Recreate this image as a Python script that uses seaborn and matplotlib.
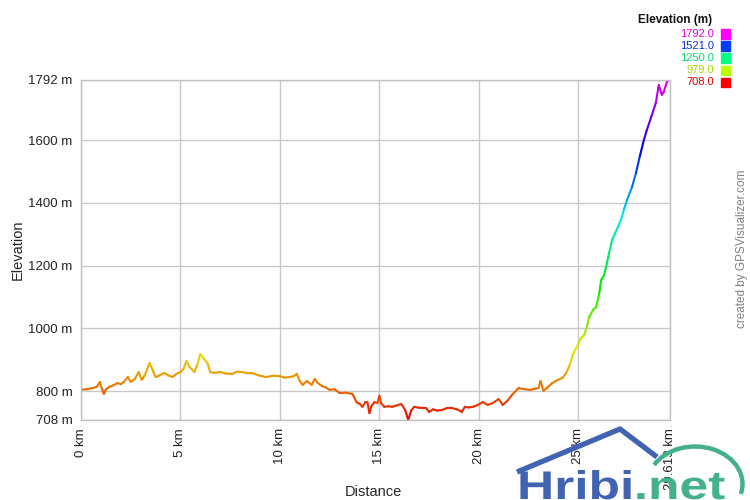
import numpy as np
import pandas as pd
import matplotlib
matplotlib.use("Agg")
import matplotlib.pyplot as plt
import matplotlib.colors as mcolors
from matplotlib.lines import Line2D
from matplotlib.patches import Arc, PathPatch
from matplotlib.textpath import TextPath
from matplotlib.font_manager import FontProperties
from matplotlib.transforms import Affine2D
import seaborn as sns

# ======================
# Data
# ======================
dist_km = [0.0, 0.3, 0.6, 0.8, 0.95, 1.05, 1.15, 1.25, 1.4, 1.6, 1.85, 2.0, 2.15, 2.35,
           2.5, 2.7, 2.9, 3.05, 3.2, 3.45, 3.6, 3.75, 3.95, 4.2, 4.4, 4.6, 4.8, 5.0,
           5.15, 5.3, 5.45, 5.7, 5.85, 6.0, 6.15, 6.35, 6.5, 6.7, 7.0, 7.3, 7.6, 7.85,
           8.1, 8.35, 8.6, 8.95, 9.3, 9.65, 10.0, 10.25, 10.5, 10.7, 10.85, 11.0, 11.15,
           11.35, 11.6, 11.75, 11.9, 12.1, 12.3, 12.5, 12.75, 13.0, 13.3, 13.65, 13.85,
           14.0, 14.15, 14.3, 14.4, 14.5, 14.6, 14.75, 14.9, 15.0, 15.1, 15.25, 15.45,
           15.65, 15.9, 16.1, 16.3, 16.45, 16.6, 16.75, 17.0, 17.35, 17.5, 17.7, 17.9,
           18.15, 18.4, 18.65, 18.9, 19.15, 19.3, 19.5, 19.7, 19.95, 20.2, 20.45, 20.7,
           21.0, 21.2, 21.45, 21.7, 22.0, 22.3, 22.6, 22.85, 23.0, 23.1, 23.25, 23.45,
           23.7, 23.95, 24.2, 24.4, 24.55, 24.75, 25.0, 25.15, 25.3, 25.45, 25.55, 25.75,
           25.9, 26.05, 26.15, 26.3, 26.4, 26.55, 26.7, 26.9, 27.15, 27.3, 27.45, 27.7,
           27.9, 28.1, 28.3, 28.45, 28.7, 28.9, 29.05, 29.2, 29.3, 29.45, 29.55]
elev_m = [805, 806, 810, 814, 829, 808, 791, 805, 813, 818, 826, 822, 829, 845,
          830, 838, 861, 836, 850, 890, 868, 845, 850, 858, 850, 845, 855, 861,
          870, 896, 878, 861, 885, 918, 905, 890, 861, 858, 861, 856, 855, 862,
          861, 857, 858, 850, 845, 849, 848, 843, 845, 848, 855, 832, 820,
          832, 820, 839, 826, 817, 812, 804, 806, 794, 795, 791, 765,
          760, 750, 765, 765, 730, 752, 765, 762, 785, 760, 750, 752,
          750, 755, 759, 740, 708, 738, 750, 747, 746, 734, 742, 738,
          740, 746, 746, 742, 734, 750, 748, 750, 756, 765, 756, 762,
          775, 756, 770, 790, 810, 806, 804, 808, 810, 832, 801, 812,
          826, 835, 842, 858, 880, 920, 950, 970, 979, 1010, 1036, 1060,
          1068, 1110, 1154, 1170, 1196, 1240, 1282, 1310, 1346, 1380, 1409, 1450,
          1495, 1550, 1601, 1633, 1680, 1719, 1776, 1745, 1754, 1785, 1792]

x_ticks = [0, 5, 10, 15, 20, 25, 29.613]
x_tick_labels = ["0 km", "5 km", "10 km", "15 km", "20 km", "25 km", "29.613 km"]
y_ticks = [708, 800, 1000, 1200, 1400, 1600, 1792]
y_tick_labels = ["708 m", "800 m", "1000 m", "1200 m", "1400 m", "1600 m", "1792 m"]
legend_values = [1792.0, 1521.0, 1250.0, 979.0, 708.0]

e_min, e_max = 708, 1792

# red -> yellow -> green -> blue -> magenta along elevation
hues = np.linspace(0, 300 / 360, 256)
hsv = np.column_stack([hues, np.ones_like(hues), np.full_like(hues, 0.92)])
elev_cmap = mcolors.ListedColormap(mcolors.hsv_to_rgb(hsv))
hsv_bright = np.column_stack([hues, np.ones_like(hues), np.ones_like(hues)])
bright_cmap = mcolors.ListedColormap(mcolors.hsv_to_rgb(hsv_bright))

# one two-point piece per step so each gets its own colour
rows = []
for i in range(len(dist_km) - 1):
    c = (elev_m[i] + elev_m[i + 1]) / 2
    rows.append((i, dist_km[i], elev_m[i], c))
    rows.append((i, dist_km[i + 1], elev_m[i + 1], c))
seg_df = pd.DataFrame(rows, columns=["seg", "dist", "elev", "c"])

# ======================
# Plot
# ======================
sns.set_style("whitegrid")
plt.rcParams["font.family"] = ["Liberation Sans", "DejaVu Sans"]

fig = plt.figure(figsize=(7.5, 5), dpi=100)
ax = fig.add_axes([81 / 750, 80 / 500, 589 / 750, 340 / 500])

sns.lineplot(data=seg_df, x="dist", y="elev", hue="c", units="seg", estimator=None,
             palette=elev_cmap, hue_norm=(e_min, e_max), legend=False, ax=ax,
             linewidth=1.5, solid_capstyle="round")

ax.set_xlim(0, 29.613)
ax.set_ylim(e_min, e_max)
ax.set_xticks(x_ticks)
ax.set_xticklabels(x_tick_labels, rotation=90, fontsize=9.5, color="#222222")
ax.set_yticks(y_ticks)
ax.set_yticklabels(y_tick_labels, fontsize=9.5, color="#222222")
ax.grid(True, color="#c8c8c8", linewidth=1)
ax.tick_params(length=4, width=1, color="#c0c0c0", pad=2)
for sp in ax.spines.values():
    sp.set_color("#c0c0c0")
    sp.set_linewidth(1)
ax.set_xlabel("Distance", fontsize=10.5)
ax.set_ylabel("Elevation", fontsize=10.5)
ax.xaxis.set_label_coords(0.497, -0.192)
ax.yaxis.set_label_coords(-0.095, 0.5)

# legend box top right
fig.text(712 / 750, 1 - 20 / 500, "Elevation (m)", fontsize=8.5, fontweight="bold",
         ha="right", va="center", color="#111111")
row_y = [34, 46, 58, 70, 82]
for val, yy in zip(legend_values, row_y):
    frac = (val - e_min) / (e_max - e_min)
    txt_col = np.array(bright_cmap(frac)[:3]) * 0.85
    fig.text(714 / 750, 1 - yy / 500, f"{val:.1f}", fontsize=8, ha="right", va="center",
             color=txt_col)
    fig.patches.append(plt.Rectangle((721 / 750, 1 - (yy + 4.5) / 500), 9 / 750, 9 / 500,
                                     transform=fig.transFigure, color=bright_cmap(frac),
                                     figure=fig))

# watermark
fig.text(742 / 750, 1 - 249 / 500, "created by GPSVisualizer.com", rotation=90,
         fontsize=8.5, color="#808080", ha="center", va="center")

# Hribi.net logo (wide bold lettering, drawn as paths in pixel space)
roof_x = [517 / 750, 620 / 750, 657 / 750]
roof_y = [1 - 472 / 500, 1 - 429 / 500, 1 - 457 / 500]
fig.add_artist(Line2D(roof_x, roof_y, transform=fig.transFigure, color="#4262b2",
                      linewidth=3.8, solid_joinstyle="round", solid_capstyle="butt"))
fig.add_artist(Arc((695 / 750, 1 - 484 / 500), 95 / 750, 75 / 500, theta1=-18, theta2=145,
                   transform=fig.transFigure, color="#44b08e", linewidth=3.2))
fp = FontProperties(family="Liberation Sans", weight="bold")
p_blue = TextPath((0, 0), "Hribi", size=1, prop=fp)
p_green = TextPath((0, 0), ".net", size=1, prop=fp)
sx, sy = 51.5, 40.0
x0, base = 517, 500 - 499
blue_w = p_blue.get_extents().x1 + 0.06
fig.add_artist(PathPatch(p_blue, transform=Affine2D().scale(sx, sy).translate(x0, base),
                         color="#4262b2", lw=0))
fig.add_artist(PathPatch(p_green,
                         transform=Affine2D().scale(sx, sy).translate(x0 + blue_w * sx, base),
                         color="#44b08e", lw=0))

fig.savefig("out.png", dpi=100)
plt.close(fig)
